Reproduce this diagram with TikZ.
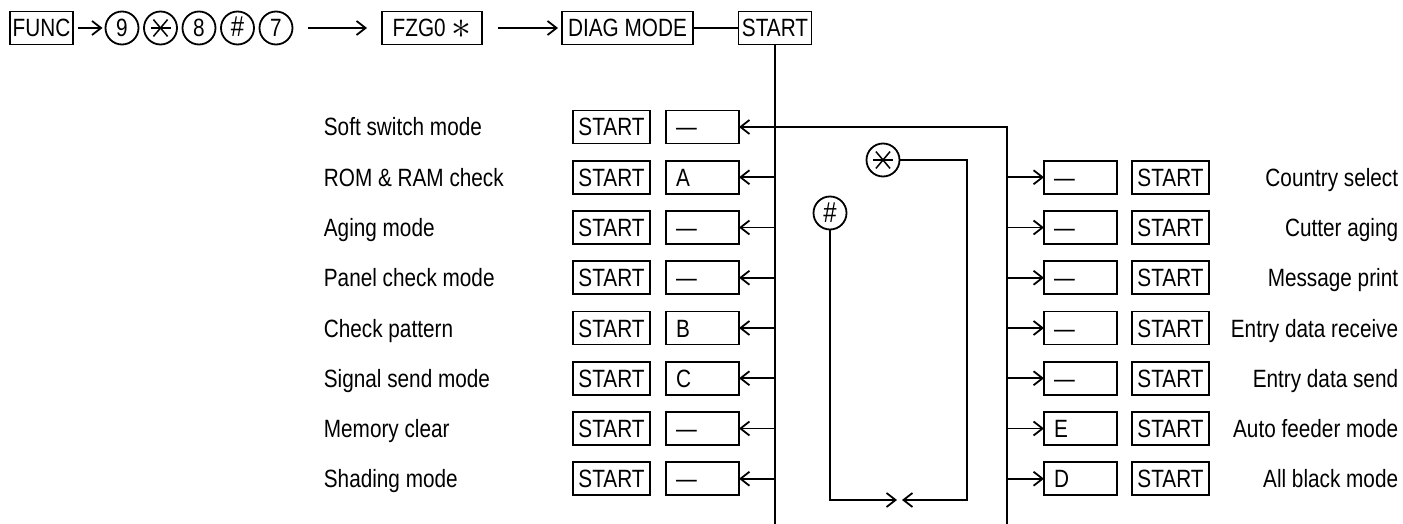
\documentclass[tikz,border=0pt]{standalone}
\usepackage{fontspec}
\setmainfont{Liberation Sans}[FakeStretch=0.83]
\usepackage{tikz}
\usetikzlibrary{arrows.meta, positioning, calc}

\begin{document}
\begin{tikzpicture}[
    x=1pt, y=-1pt,
    line width=1.8pt,
    font=\fontsize{25}{30}\selectfont,
    node distance=17.25pt,
    box/.style={rectangle, draw, outer sep=0pt, inner xsep=3pt, inner ysep=0pt, minimum height=33pt, text height=18pt, text depth=0pt},
    startbox/.style={box, minimum width=77pt},
    valbox/.style={box, minimum width=73pt, text width=53pt, align=left, inner xsep=10pt},
    keycirc/.style={circle, draw, outer sep=0pt, inner sep=0pt, minimum size=33pt, text height=18pt, text depth=0pt},
    starkey/.style={keycirc, path picture={
        \draw[line width=1.5pt] (path picture bounding box.center) ++(-10pt,0pt) -- ++(20pt,0pt);
        \draw[line width=1.5pt] (path picture bounding box.center) ++(50:11pt) -- ++(230:22pt);
        \draw[line width=1.5pt] (path picture bounding box.center) ++(130:11pt) -- ++(310:22pt);}},
    lbl/.style={inner sep=0pt, text height=18pt, text depth=0pt},
    arrow/.style={-{Straight Barb[length=9pt, width=14pt]}}
]
    \useasboundingbox (0,0) rectangle (1403,524);

    % key sequence
    \node[box, minimum width=63pt] (func) at (41.5,28) {FUNC};
    \node[keycirc] (k9) at (122,28) {9};
    \node[starkey, right=5.5pt of k9] (kstar) {};
    \node[keycirc, right=5.5pt of kstar] (k8) {8};
    \node[keycirc, right=5.5pt of k8] (khash) {\scalebox{1.15}{\#}};
    \node[keycirc, right=5.5pt of khash] (k7) {7};
    \node[box, minimum width=100pt] (fzg) at (432,28) {FZG0 \raisebox{-1.5pt}{\scalebox{1.6}{$\ast$}}};
    \node[box, minimum width=131pt] (diag) at (627.5,28) {DIAG MODE};
    \node[box, minimum width=73pt] (start) at (775,28) {START};

    \draw[arrow, shorten <=5pt, shorten >=3pt] (func) -- (k9);
    \draw[arrow, shorten <=15pt, shorten >=15pt] (k7) -- (fzg);
    \draw[arrow, shorten <=16pt, shorten >=4pt] (fzg) -- (diag);
    \draw (diag) -- (start);

    % left column
    \node[startbox] (s1) at (611.5,127) {START};
    \node[valbox, right=16pt of s1] (v1) {—};
    \node[lbl, anchor=west] (l1) at (323,0 |- s1) {Soft switch mode};
    \node[startbox, below=of s1] (s2) {START};
    \node[valbox, right=16pt of s2] (v2) {A};
    \node[lbl, anchor=west] (l2) at (323,0 |- s2) {ROM \& RAM check};
    \node[startbox, below=of s2] (s3) {START};
    \node[valbox, right=16pt of s3] (v3) {—};
    \node[lbl, anchor=west] (l3) at (323,0 |- s3) {Aging mode};
    \node[startbox, below=of s3] (s4) {START};
    \node[valbox, right=16pt of s4] (v4) {—};
    \node[lbl, anchor=west] (l4) at (323,0 |- s4) {Panel check mode};
    \node[startbox, below=of s4] (s5) {START};
    \node[valbox, right=16pt of s5] (v5) {B};
    \node[lbl, anchor=west] (l5) at (323,0 |- s5) {Check pattern};
    \node[startbox, below=of s5] (s6) {START};
    \node[valbox, right=16pt of s6] (v6) {C};
    \node[lbl, anchor=west] (l6) at (323,0 |- s6) {Signal send mode};
    \node[startbox, below=of s6] (s7) {START};
    \node[valbox, right=16pt of s7] (v7) {—};
    \node[lbl, anchor=west] (l7) at (323,0 |- s7) {Memory clear};
    \node[startbox, below=of s7] (s8) {START};
    \node[valbox, right=16pt of s8] (v8) {—};
    \node[lbl, anchor=west] (l8) at (323,0 |- s8) {Shading mode};

    % right column
    \node[valbox] (w1) at (1080.5,177.25) {—};
    \node[startbox, right=15pt of w1] (t1) {START};
    \node[lbl, anchor=east] (r1) at (1399,0 |- t1) {Country select};
    \node[valbox, below=of w1] (w2) {—};
    \node[startbox, right=15pt of w2] (t2) {START};
    \node[lbl, anchor=east] (r2) at (1399,0 |- t2) {Cutter aging};
    \node[valbox, below=of w2] (w3) {—};
    \node[startbox, right=15pt of w3] (t3) {START};
    \node[lbl, anchor=east] (r3) at (1399,0 |- t3) {Message print};
    \node[valbox, below=of w3] (w4) {—};
    \node[startbox, right=15pt of w4] (t4) {START};
    \node[lbl, anchor=east] (r4) at (1399,0 |- t4) {Entry data receive};
    \node[valbox, below=of w4] (w5) {—};
    \node[startbox, right=15pt of w5] (t5) {START};
    \node[lbl, anchor=east] (r5) at (1399,0 |- t5) {Entry data send};
    \node[valbox, below=of w5] (w6) {E};
    \node[startbox, right=15pt of w6] (t6) {START};
    \node[lbl, anchor=east] (r6) at (1399,0 |- t6) {Auto feeder mode};
    \node[valbox, below=of w6] (w7) {D};
    \node[startbox, right=15pt of w7] (t7) {START};
    \node[lbl, anchor=east] (r7) at (1399,0 |- t7) {All black mode};

    % buses
    \coordinate (lbus) at (775,524);
    \coordinate (rbus) at (1007,524);
    \draw (start) -- (lbus);
    \draw[arrow] (rbus) -- (rbus |- v1) -- (v1);
    \draw[arrow] (lbus |- v2) -- (v2);
    \draw[arrow] (lbus |- v3) -- (v3);
    \draw[arrow] (lbus |- v4) -- (v4);
    \draw[arrow] (lbus |- v5) -- (v5);
    \draw[arrow] (lbus |- v6) -- (v6);
    \draw[arrow] (lbus |- v7) -- (v7);
    \draw[arrow] (lbus |- v8) -- (v8);
    \draw[arrow] (rbus |- w1) -- (w1);
    \draw[arrow] (rbus |- w2) -- (w2);
    \draw[arrow] (rbus |- w3) -- (w3);
    \draw[arrow] (rbus |- w4) -- (w4);
    \draw[arrow] (rbus |- w5) -- (w5);
    \draw[arrow] (rbus |- w6) -- (w6);
    \draw[arrow] (rbus |- w7) -- (w7);

    % inner loop
    \node[starkey] (lstar) at (883,160) {};
    \node[keycirc] (lhash) at (830,213) {\scalebox{1.15}{\#}};
    \coordinate (loopr) at (967,500);
    \coordinate (loopm) at (899.5,500);
    \draw[arrow] (lstar) -- (lstar -| loopr) -- (loopr) -- ([xshift=2.5pt]loopm);
    \draw[arrow] (lhash) -- (lhash |- loopm) -- ([xshift=-2.5pt]loopm);
\end{tikzpicture}
\end{document}
